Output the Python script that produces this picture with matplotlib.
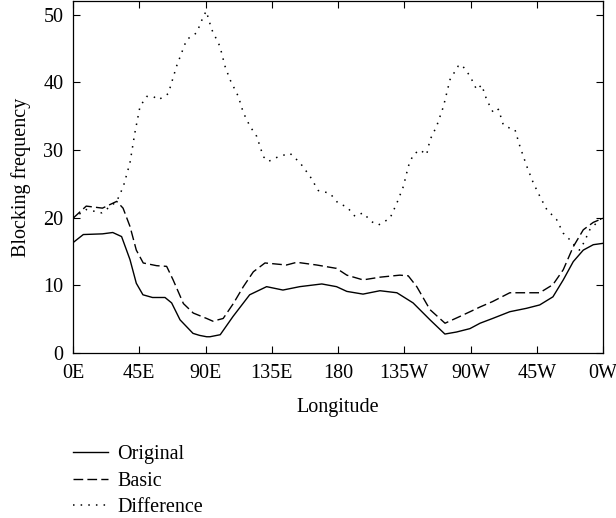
import matplotlib
matplotlib.use("Agg")
import matplotlib.pyplot as plt

# ---- data ----
orig_lon = [0, 7, 20, 27, 33, 38.7, 43, 47.5, 54, 62.5, 67, 72.7, 81.5, 86, 90.8, 93, 100,
            108.7, 120, 131.5, 142.6, 154, 169, 179, 186, 197, 208.5, 220, 231, 242.5,
            252.6, 260.5, 269.6, 276.5, 285, 296.7, 308, 317, 326, 333, 339.8, 346.6, 353.4, 360]
orig_val = [16.3, 17.5, 17.6, 17.8, 17.2, 13.8, 10.3, 8.6, 8.2, 8.2, 7.4, 4.9, 2.9, 2.6, 2.4, 2.4, 2.7,
            5.4, 8.6, 9.8, 9.3, 9.8, 10.2, 9.8, 9.1, 8.7, 9.2, 8.9, 7.4, 4.9,
            2.8, 3.1, 3.6, 4.4, 5.1, 6.1, 6.6, 7.1, 8.3, 10.8, 13.5, 15.2, 16.0, 16.2]

basic_lon = [0, 9, 20, 29.7, 34, 38.7, 43, 47.7, 56.8, 63.6, 68, 75, 81.7, 90.8, 95, 102, 108.9,
             115.7, 122.5, 130.4, 145, 152, 165.5, 179, 186, 197, 208.5, 222, 227.7, 233.5,
             242.5, 252.7, 262.8, 269.7, 276.5, 285, 296.7, 308, 317, 326, 333, 339.8, 346.6, 353.4, 360]
basic_val = [19.9, 21.7, 21.4, 22.4, 21.4, 18.7, 15.2, 13.3, 12.9, 12.8, 10.8, 7.3, 5.9, 5.1, 4.7, 5.1, 7.3,
             9.8, 12.0, 13.3, 13.0, 13.4, 13.0, 12.5, 11.5, 10.8, 11.2, 11.5, 11.4, 9.8,
             6.4, 4.4, 5.4, 6.1, 6.8, 7.6, 8.9, 8.9, 8.9, 10.1, 12.3, 15.7, 18.2, 19.3, 19.9]

diff_lon = [0, 9, 19.5, 25, 29.7, 34.2, 38.7, 42, 45.5, 50, 54.5, 58, 64.7, 70.4, 77.2, 84, 88.5,
            90.5, 94.2, 99.8, 103.2, 106.6, 112.3, 115.7, 120.2, 124.8, 129.3, 132.7, 139.5,
            147.4, 154.2, 161, 166.6, 174.5, 180.2, 186, 191.5, 197, 202.8, 207.4, 215.3, 219.9,
            224.4, 227.8, 231.1, 235.7, 240.2, 242.5, 247, 251.6, 256.1, 261.7, 264, 269.7,
            274.2, 277.6, 281, 285.5, 289, 292.3, 296.8, 300.2, 303.6, 308.2, 312.7, 317.2,
            321.8, 328.5, 333, 337.6, 341, 344, 347, 351, 357.8, 360]
diff_val = [19.9, 21.2, 20.7, 21.6, 22.4, 24.6, 28.1, 32.5, 36.4, 37.9, 37.9, 37.4, 38.3, 42.4, 46.3, 47.3, 49.7,
            50.5, 47.8, 45.3, 42.4, 40.4, 37.9, 35.5, 33.5, 32.0, 29.0, 28.3, 29.0,
            29.5, 28.1, 26.1, 24.0, 23.6, 22.1, 21.6, 20.2, 20.7, 19.4, 18.9, 19.9, 22.1,
            24.6, 27.6, 29.3, 30.0, 29.3, 31.5, 33.5, 36.4, 40.4, 42.4, 42.6, 40.9,
            38.9, 39.6, 37.4, 35.5, 36.0, 33.7, 33.2, 33.0, 30.5, 27.6, 25.1, 23.1,
            21.2, 19.7, 17.7, 16.7, 15.8, 15.2, 16.3, 18.2, 19.7, 20.0]

x_ticks = [0, 45, 90, 135, 180, 225, 270, 315, 360]
x_tick_labels = ["0E", "45E", "90E", "135E", "180", "135W", "90W", "45W", "0W"]
y_ticks = [0, 10, 20, 30, 40, 50]

FS = 14.5
plt.rcParams['font.family'] = ['Liberation Serif', 'DejaVu Serif']
plt.rcParams['font.size'] = FS

fig = plt.figure(figsize=(6.16, 5.18), dpi=100)
ax = fig.add_axes([73/616, 1 - 353/518, 530/616, 352/518])

l1, = ax.plot(orig_lon, orig_val, color='black', lw=1.0, linestyle='-', label='Original')
l2, = ax.plot(basic_lon, basic_val, color='black', lw=1.0, linestyle=(0, (7, 3)), label='Basic')
l3, = ax.plot(diff_lon, diff_val, color='black', lw=1.1, linestyle=(0, (1, 4)), label='Difference')

ax.set_xlim(0, 360)
ax.set_ylim(0, 52)
ax.set_xticks(x_ticks)
ax.set_xticklabels(x_tick_labels)
ax.set_yticks(y_ticks)
ax.tick_params(direction='in', top=True, right=True, length=5, width=0.8, pad=7, labelsize=FS)
ax.tick_params(axis='x', pad=8)
for s in ax.spines.values():
    s.set_linewidth(0.9)

ax.set_xlabel('Longitude', fontsize=FS, labelpad=11)
ax.set_ylabel('Blocking frequency', fontsize=FS, labelpad=9)

fig.legend(handles=[l1, l2, l3], loc='upper left', bbox_to_anchor=(65/616, 1 - 437/518),
           frameon=False, fontsize=FS, handlelength=1.75, handletextpad=0.45,
           labelspacing=0.37, borderaxespad=0)

fig.savefig('out.png', dpi=100)
